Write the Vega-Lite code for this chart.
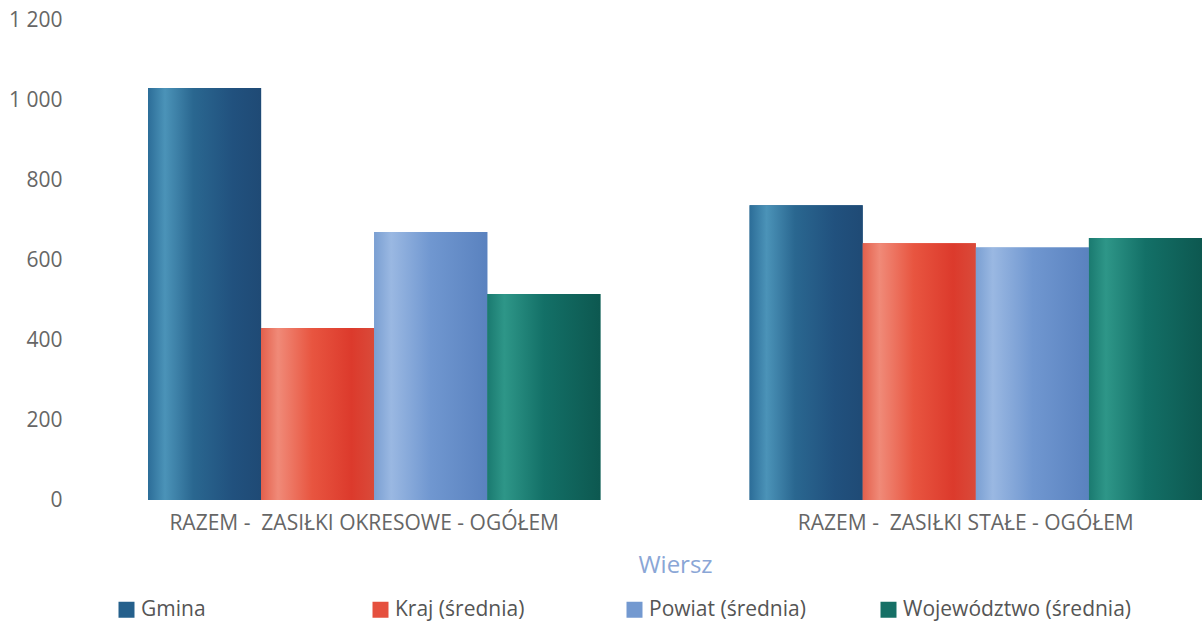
{
  "$schema": "https://vega.github.io/schema/vega-lite/v6.json",
  "width": 1054,
  "height": 480,
  "autosize": "none",
  "padding": {"left": 148, "top": 20, "right": 0, "bottom": 127},
  "background": "white",
  "config": {
    "font": "Open Sans",
    "view": {"stroke": null}
  },
  "data": {
    "values": [
      {"wiersz": "RAZEM - \u00a0ZASIŁKI OKRESOWE - OGÓŁEM", "seria": "Gmina", "wartosc": 1030},
      {"wiersz": "RAZEM - \u00a0ZASIŁKI OKRESOWE - OGÓŁEM", "seria": "Kraj (średnia)", "wartosc": 430},
      {"wiersz": "RAZEM - \u00a0ZASIŁKI OKRESOWE - OGÓŁEM", "seria": "Powiat (średnia)", "wartosc": 670},
      {"wiersz": "RAZEM - \u00a0ZASIŁKI OKRESOWE - OGÓŁEM", "seria": "Województwo (średnia)", "wartosc": 515},
      {"wiersz": "RAZEM - \u00a0ZASIŁKI STAŁE - OGÓŁEM", "seria": "Gmina", "wartosc": 737},
      {"wiersz": "RAZEM - \u00a0ZASIŁKI STAŁE - OGÓŁEM", "seria": "Kraj (średnia)", "wartosc": 642},
      {"wiersz": "RAZEM - \u00a0ZASIŁKI STAŁE - OGÓŁEM", "seria": "Powiat (średnia)", "wartosc": 631},
      {"wiersz": "RAZEM - \u00a0ZASIŁKI STAŁE - OGÓŁEM", "seria": "Województwo (średnia)", "wartosc": 655}
    ]
  },
  "encoding": {
    "x": {
      "field": "wiersz",
      "type": "nominal",
      "sort": null,
      "scale": {"paddingInner": 0.248, "paddingOuter": 0},
      "axis": {
        "title": "Wiersz",
        "titleColor": "#8aa6d6",
        "titleFontSize": 24,
        "titleFontWeight": "normal",
        "titlePadding": 20,
        "labelAngle": 0,
        "labelColor": "#666666",
        "labelFontSize": 21,
        "labelPadding": 12,
        "labelOffset": -10,
        "labelLimit": 600,
        "ticks": false,
        "domain": false
      }
    },
    "xOffset": {
      "field": "seria",
      "type": "nominal",
      "scale": {"domain": ["Gmina", "Kraj (średnia)", "Powiat (średnia)", "Województwo (średnia)"], "paddingInner": 0, "paddingOuter": 0}
    },
    "y": {
      "field": "wartosc",
      "type": "quantitative",
      "scale": {"domain": [0, 1200]},
      "axis": {
        "title": null,
        "values": [0, 200, 400, 600, 800, 1000, 1200],
        "format": ",d",
        "labelExpr": "replace(datum.label, ',', ' ')",
        "labelColor": "#666666",
        "labelFontSize": 21,
        "labelPadding": 86,
        "ticks": false,
        "domain": false,
        "grid": false
      }
    }
  },
  "layer": [
    {
      "mark": {"type": "bar", "strokeWidth": 0},
      "encoding": {
        "color": {
          "field": "seria",
          "type": "nominal",
          "scale": {
            "domain": ["Gmina", "Kraj (średnia)", "Powiat (średnia)", "Województwo (średnia)"],
            "range": ["#25608c", "#e5503e", "#7399d0", "#167066"]
          },
          "legend": {
            "title": null,
            "orient": "none",
            "legendX": -32,
            "legendY": 579,
            "direction": "horizontal",
            "columns": 4,
            "gridAlign": "all",
            "columnPadding": -3,
            "padding": 0,
            "symbolType": "square",
            "symbolSize": 256,
            "symbolStrokeWidth": 0,
            "symbolOpacity": 1,
            "labelFontSize": 21,
            "labelColor": "#555555",
            "labelOffset": 4,
            "labelLimit": 400
          }
        }
      }
    },
    {
      "transform": [{"filter": "datum.seria === 'Gmina'"}],
      "mark": {"type": "bar", "strokeWidth": 0, "color": {"gradient": "linear", "x1": 0, "y1": 0, "x2": 1, "y2": 0, "stops": [
        {"offset": 0, "color": "#2c6d98"}, {"offset": 0.15, "color": "#4b93b8"}, {"offset": 0.4, "color": "#2a6790"}, {"offset": 0.75, "color": "#21517e"}, {"offset": 1, "color": "#1f4a75"}]}}
    },
    {
      "transform": [{"filter": "datum.seria === 'Kraj (średnia)'"}],
      "mark": {"type": "bar", "strokeWidth": 0, "color": {"gradient": "linear", "x1": 0, "y1": 0, "x2": 1, "y2": 0, "stops": [
        {"offset": 0, "color": "#e3604c"}, {"offset": 0.15, "color": "#f08a78"}, {"offset": 0.45, "color": "#e85540"}, {"offset": 0.8, "color": "#dc3a2c"}, {"offset": 1, "color": "#d94a3a"}]}}
    },
    {
      "transform": [{"filter": "datum.seria === 'Powiat (średnia)'"}],
      "mark": {"type": "bar", "strokeWidth": 0, "color": {"gradient": "linear", "x1": 0, "y1": 0, "x2": 1, "y2": 0, "stops": [
        {"offset": 0, "color": "#7a9fd2"}, {"offset": 0.15, "color": "#9ab8e2"}, {"offset": 0.5, "color": "#7097d0"}, {"offset": 1, "color": "#5a82bf"}]}}
    },
    {
      "transform": [{"filter": "datum.seria === 'Województwo (średnia)'"}],
      "mark": {"type": "bar", "strokeWidth": 0, "color": {"gradient": "linear", "x1": 0, "y1": 0, "x2": 1, "y2": 0, "stops": [
        {"offset": 0, "color": "#1a7a70"}, {"offset": 0.15, "color": "#2e9688"}, {"offset": 0.5, "color": "#137067"}, {"offset": 1, "color": "#0d5850"}]}}
    }
  ]
}
